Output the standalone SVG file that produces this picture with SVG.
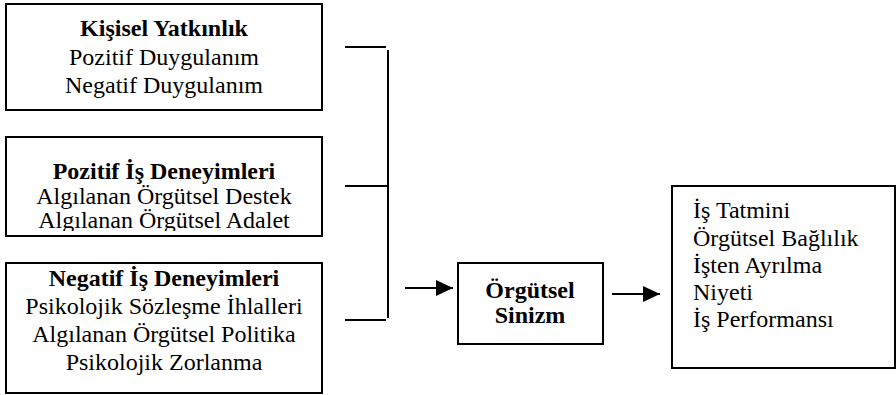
<svg xmlns="http://www.w3.org/2000/svg" width="896" height="395" viewBox="0 0 896 395">
<style>
.box{fill:#fff;stroke:#000;stroke-width:2}
.ln{stroke:#000;stroke-width:2;fill:none}
</style>
<defs>
<marker id="ah" markerWidth="17" markerHeight="16" refX="17" refY="8" orient="auto" markerUnits="userSpaceOnUse">
<path d="M0,0 L17,8 L0,16 Z" fill="#000"/>
</marker>
<clipPath id="cp2"><rect x="6" y="137" width="316" height="94"/></clipPath>
</defs>
<g id="n1">
<rect class="box" x="6" y="4" width="316" height="106"/>
<text x="164" y="36" font-family="Liberation Serif" font-size="24" text-anchor="middle" font-weight="bold">Kişisel Yatkınlık</text>
<text x="164" y="65" font-family="Liberation Serif" font-size="24" text-anchor="middle">Pozitif Duygulanım</text>
<text x="164" y="93" font-family="Liberation Serif" font-size="24" text-anchor="middle">Negatif Duygulanım</text>
</g>
<g id="n2">
<rect class="box" x="6" y="137" width="316" height="99"/>
<g clip-path="url(#cp2)">
<text x="164" y="179" font-family="Liberation Serif" font-size="24" text-anchor="middle" font-weight="bold">Pozitif İş Deneyimleri</text>
<text x="164" y="204" font-family="Liberation Serif" font-size="24" text-anchor="middle">Algılanan Örgütsel Destek</text>
<text x="164" y="228" font-family="Liberation Serif" font-size="24" text-anchor="middle">Algılanan Örgütsel Adalet</text>
</g>
</g>
<g id="n3">
<rect class="box" x="6" y="263" width="316" height="130"/>
<text x="164" y="286" font-family="Liberation Serif" font-size="24" text-anchor="middle" font-weight="bold">Negatif İş Deneyimleri</text>
<text x="164" y="314" font-family="Liberation Serif" font-size="24" text-anchor="middle">Psikolojik Sözleşme İhlalleri</text>
<text x="164" y="342" font-family="Liberation Serif" font-size="24" text-anchor="middle">Algılanan Örgütsel Politika</text>
<text x="164" y="370" font-family="Liberation Serif" font-size="24" text-anchor="middle">Psikolojik Zorlanma</text>
</g>
<g id="n4">
<rect class="box" x="458" y="263" width="145" height="81"/>
<text x="530" y="298" font-family="Liberation Serif" font-size="24" text-anchor="middle" font-weight="bold">Örgütsel</text>
<text x="530" y="323" font-family="Liberation Serif" font-size="24" text-anchor="middle" font-weight="bold">Sinizm</text>
</g>
<g id="n5">
<rect class="box" x="672" y="186" width="223" height="182"/>
<text x="693" y="218" font-family="Liberation Serif" font-size="24">İş Tatmini</text>
<text x="693" y="246" font-family="Liberation Serif" font-size="24">Örgütsel Bağlılık</text>
<text x="693" y="273" font-family="Liberation Serif" font-size="24">İşten Ayrılma</text>
<text x="693" y="300" font-family="Liberation Serif" font-size="24">Niyeti</text>
<text x="693" y="327" font-family="Liberation Serif" font-size="24">İş Performansı</text>
</g>
<g id="connectors">
<line class="ln" x1="345" y1="47" x2="386" y2="47"/>
<line class="ln" x1="345" y1="186" x2="388" y2="186"/>
<line class="ln" x1="345" y1="320" x2="386" y2="320"/>
<line class="ln" x1="388" y1="50" x2="388" y2="318"/>
<line class="ln" x1="405" y1="288" x2="453" y2="288" marker-end="url(#ah)"/>
<line class="ln" x1="612" y1="294" x2="660" y2="294" marker-end="url(#ah)"/>
</g>
</svg>
